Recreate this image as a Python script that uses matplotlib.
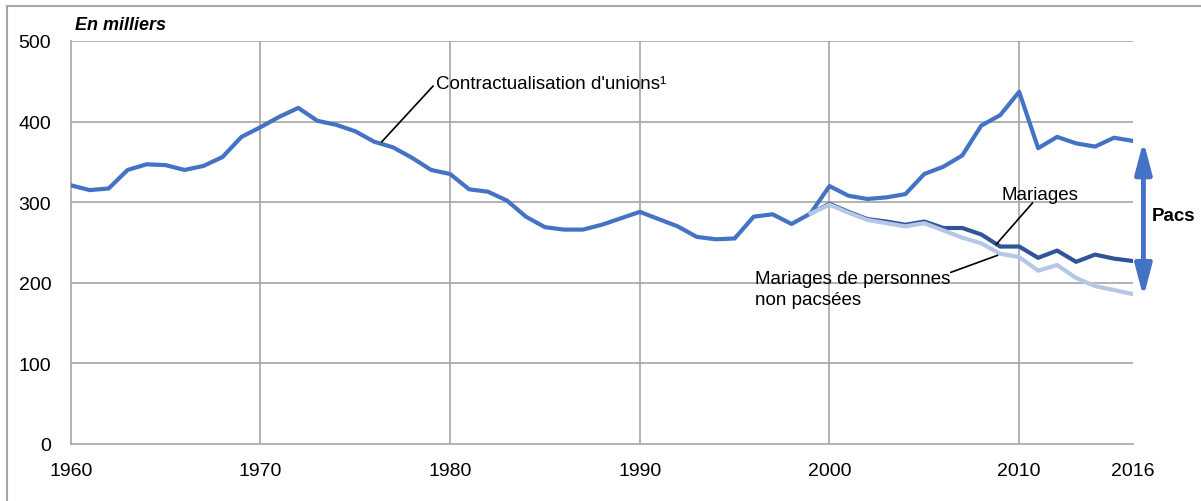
import matplotlib
matplotlib.use('Agg')
import matplotlib.pyplot as plt
from matplotlib.lines import Line2D

plt.rcParams['font.family'] = ['Liberation Sans', 'DejaVu Sans']

# contractualisation d'unions (mariages + pacs), en milliers
years = list(range(1960, 2017))
contract = [321, 315, 317, 340, 347, 346, 340, 345, 356, 381,
            393, 406, 417, 401, 396, 388, 375, 368, 355, 340,
            335, 316, 313, 302, 282, 269, 266, 266, 272, 280,
            288, 279, 270, 257, 254, 255, 282, 285, 273, 286,
            320, 308, 304, 306, 310, 335, 344, 358, 395, 408,
            437, 367, 381, 373, 369, 380, 376]

years_mar = list(range(1999, 2017))
mariages = [286, 298, 288, 279, 276, 272, 276, 268, 268, 260,
            245, 245, 231, 240, 226, 235, 230, 227]
non_pacses = [286, 297, 287, 278, 274, 270, 274, 265, 256, 249,
              236, 232, 215, 222, 206, 196, 191, 186]

BLUE = '#4472C4'
DARK = '#2F5597'
LIGHT = '#B4C7E7'
GRID = '#A6A6A6'

W, H = 1201, 502
fig = plt.figure(figsize=(W / 100, H / 100), dpi=100)
ax = fig.add_axes([70.7 / W, (H - 445) / H, (1133 - 70.7) / W, (445 - 42) / H])

ax.plot(years, contract, color=BLUE, lw=3, solid_joinstyle='round', zorder=3)
ax.plot(years_mar, mariages, color=DARK, lw=3, solid_joinstyle='round', zorder=4)
ax.plot(years_mar, non_pacses, color=LIGHT, lw=3, solid_joinstyle='round', zorder=5)

ax.set_xlim(1960, 2016)
ax.set_ylim(0, 500)
ax.set_xticks([1960, 1970, 1980, 1990, 2000, 2010, 2016])
ax.set_yticks(range(0, 501, 100))
ax.tick_params(length=0, labelsize=14, colors='black')
ax.tick_params(axis='x', pad=13)
ax.tick_params(axis='y', pad=14)

for y in range(100, 501, 100):
    ax.axhline(y, color=GRID, lw=1.2, zorder=1)
for x in [1970, 1980, 1990, 2000, 2010]:
    ax.axvline(x, color=GRID, lw=1.2, zorder=1)
for s in ['top', 'right']:
    ax.spines[s].set_visible(False)
for s in ['left', 'bottom']:
    ax.spines[s].set_color(GRID)
    ax.spines[s].set_linewidth(1.2)

# labels and leader lines
ax.text(1979.25, 447, "Contractualisation d'unions\u00b9", fontsize=13.5,
        va='center', ha='left')
ax.plot([1979.1, 1976.4], [444, 375], color='black', lw=1.2, zorder=6)

ax.text(2009.07, 309, "Mariages", fontsize=13.5, va='center', ha='left')
ax.plot([2010.7, 2008.8], [299, 248], color='black', lw=1.2, zorder=6)

ax.text(1996.06, 192, "Mariages de personnes\nnon pacsées", fontsize=13.5,
        va='center', ha='left', linespacing=1.3)
ax.plot([2006.4, 2008.85], [213, 234], color='black', lw=1.2, zorder=6)

# Pacs double arrow
ax.annotate('', xy=(2016.55, 182), xytext=(2016.55, 376),
            arrowprops=dict(arrowstyle='<|-|>,head_length=1.9,head_width=0.5',
                            color=BLUE, lw=3.5, shrinkA=0, shrinkB=0),
            annotation_clip=False)
ax.text(2016.97, 283, 'Pacs', fontsize=13.5, fontweight='bold', va='center',
        ha='left', clip_on=False)

fig.text(75 / W, 1 - 25 / H, 'En milliers', fontsize=13, fontweight='bold',
         fontstyle='italic', va='center', ha='left')

# outer frame
fig.add_artist(Line2D([7 / W, 1], [1 - 7 / H, 1 - 7 / H], color=GRID, lw=1.5,
                      transform=fig.transFigure))
fig.add_artist(Line2D([7 / W, 7 / W], [0, 1 - 7 / H], color=GRID, lw=1.5,
                      transform=fig.transFigure))

fig.savefig('out.png', dpi=100)
